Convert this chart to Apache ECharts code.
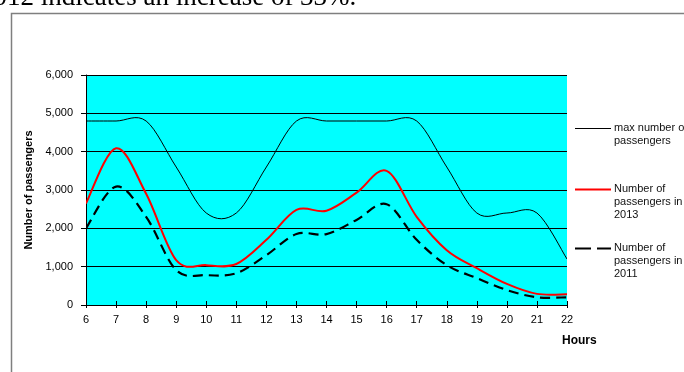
<!DOCTYPE html>
<html><head><meta charset="utf-8">
<script src="https://cdn.jsdelivr.net/npm/echarts@6/dist/echarts.min.js"></script>
<style>html,body{margin:0;padding:0;background:#fff}#c{width:684px;height:372px}</style>
</head><body><div id="c"></div>
<script>
const hours = [6,7,8,9,10,11,12,13,14,15,16,17,18,19,20,21,22];
const maxPassengers = [4800,4800,4800,3600,2400,2400,3600,4800,4800,4800,4800,4800,3600,2400,2400,2400,1200];
const passengers2013 = [2650,4090,2900,1170,1040,1070,1700,2480,2460,2930,3500,2300,1430,960,550,290,280];
const passengers2011 = [2000,3090,2300,910,780,830,1300,1850,1850,2220,2630,1700,1040,700,390,200,200];
const yTicks = [0,1000,2000,3000,4000,5000,6000];
const legendNames = ['max number of\npassengers','Number of\npassengers in\n2013','Number of\npassengers in\n2011'];

const chart = echarts.init(document.getElementById('c'));
const toPairs = arr => hours.map((h,i)=>[h,arr[i]]);

// Smoothed (Catmull-Rom style, like spreadsheet smoothing) line drawn via axis coordinates
function smoothSeries(values, lineStyle){
  return {
    type:'custom',
    data: toPairs(values),
    clip:true,
    renderItem:function(params, api){
      if (params.dataIndex !== 0) return null;
      const pts = hours.map((h,i)=>api.coord([h, values[i]]));
      const n = pts.length;
      let d = 'M' + pts[0][0] + ' ' + pts[0][1];
      for (let i=0;i<n-1;i++){
        const p0 = pts[Math.max(i-1,0)], p1 = pts[i], p2 = pts[i+1], p3 = pts[Math.min(i+2,n-1)];
        const c1x = p1[0] + (p2[0]-p0[0])/6, c1y = p1[1] + (p2[1]-p0[1])/6;
        const c2x = p2[0] - (p3[0]-p1[0])/6, c2y = p2[1] - (p3[1]-p1[1])/6;
        d += ' C' + c1x + ' ' + c1y + ' ' + c2x + ' ' + c2y + ' ' + p2[0] + ' ' + p2[1];
      }
      return {type:'path', shape:{pathData:d}, style:Object.assign({fill:'none'}, lineStyle), silent:true};
    }
  };
}

const legendY = [128,189,248];
const styles = [
  {stroke:'#000',lineWidth:1},
  {stroke:'#ff0000',lineWidth:2},
  {stroke:'#000',lineWidth:2.2,lineDash:[10,6]}
];
const legendStyles = [styles[0], styles[1], {stroke:'#000',lineWidth:2.2,lineDash:[16,6]}];
const FONT = '"Liberation Sans", Arial, sans-serif';
const graphics = [
  {type:'rect',shape:{x:11.5,y:13.5,width:700,height:400},style:{fill:'none',stroke:'#7f7f7f',lineWidth:1.5}},
  {type:'text',x:-20,y:-2,style:{text:'2012 indicates an increase of 33%.',font:'27px "Liberation Serif", serif',fill:'#000',textVerticalAlign:'middle'}},
  {type:'text',x:562,y:341,style:{text:'Hours',font:'bold 12px '+FONT,fill:'#000',textVerticalAlign:'middle'}}
];
legendNames.forEach((n,i)=>{
  graphics.push({type:'line',shape:{x1:575,y1:legendY[i]+0.5,x2:611,y2:legendY[i]+0.5},style:legendStyles[i]});
  graphics.push({type:'text',x:614,y:legendY[i]-6.5,style:{text:n,font:'11px '+FONT,fill:'#111',lineHeight:12.8,textVerticalAlign:'top'}});
});

const xBase = {type:'value',min:6,max:22,interval:1,gridIndex:0};
const yBase = {type:'value',min:0,max:6000,interval:1000,gridIndex:0};
chart.setOption({
  animation:false,
  grid:{left:86,right:117,top:75,bottom:67,show:true,backgroundColor:'#00ffff',borderWidth:0},
  xAxis:[
    Object.assign({}, xBase, {
      axisLine:{show:true,onZero:false,lineStyle:{color:'#000',width:1}},
      axisTick:{show:true,length:3,lineStyle:{color:'#000'}},
      axisLabel:{color:'#000',fontSize:11,fontFamily:FONT,margin:9},
      splitLine:{show:false}}),
    Object.assign({}, xBase, {position:'bottom',
      axisLine:{show:false,onZero:false},
      axisTick:{show:true,inside:true,length:4,lineStyle:{color:'#000'}},
      axisLabel:{show:false},splitLine:{show:false}})
  ],
  yAxis:[
    Object.assign({}, yBase, {
      name:'Number of passengers',nameLocation:'middle',nameGap:50,
      nameTextStyle:{color:'#000',fontSize:11,fontWeight:'bold',fontFamily:FONT},
      axisLine:{show:true,lineStyle:{color:'#000',width:1}},
      axisTick:{show:true,length:5,lineStyle:{color:'#000'}},
      axisLabel:{color:'#000',fontSize:11,fontFamily:FONT,margin:13,
        formatter:v=>yTicks.includes(v)?v.toLocaleString('en-US'):''},
      splitLine:{show:true,lineStyle:{color:'#000',width:1}}})
  ],
  series:[
    smoothSeries(maxPassengers, styles[0]),
    smoothSeries(passengers2013, styles[1]),
    smoothSeries(passengers2011, styles[2])
  ],
  graphic:graphics
});
</script></body></html>
